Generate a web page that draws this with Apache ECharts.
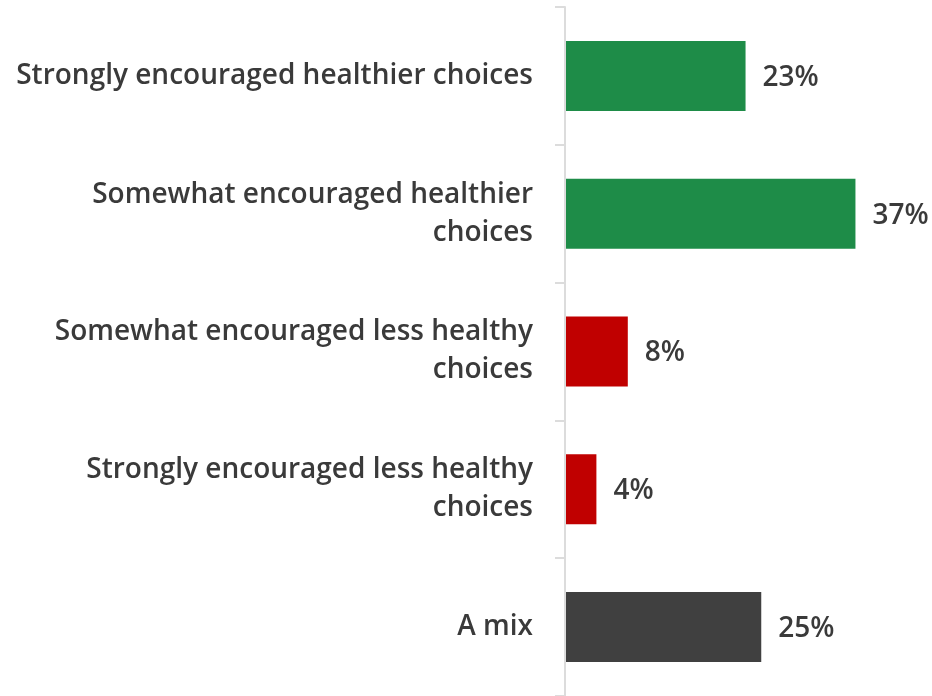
<!DOCTYPE html>
<html>
<head>
<meta charset="utf-8">
<script src="https://cdn.jsdelivr.net/npm/echarts@6/dist/echarts.min.js"></script>
<style>
html,body{margin:0;padding:0;background:#fff;}
#c{width:932px;height:696px;}
</style>
</head>
<body>
<div id="c"></div>
<script>
var categories = [
  "Strongly encouraged healthier choices",
  "Somewhat encouraged healthier\nchoices",
  "Somewhat encouraged less healthy\nchoices",
  "Strongly encouraged less healthy\nchoices",
  "A mix"
];
var values = [23, 37, 8, 4, 25];
var barColors = ["#1E8C48", "#1E8C48", "#C00000", "#C00000", "#404040"];

var chart = echarts.init(document.getElementById('c'), null, {renderer: 'canvas'});
var FONT = "'Open Sans', 'Liberation Sans', Arial, sans-serif";
chart.setOption({
  animation: false,
  backgroundColor: '#ffffff',
  grid: {left: 565, top: 7, width: 314, height: 690, containLabel: false},
  xAxis: {type: 'value', min: 0, max: 40, show: false},
  yAxis: {
    type: 'category',
    inverse: true,
    data: categories,
    z: 3,
    axisLine: {show: true, lineStyle: {color: '#dcdcdc', width: 2}},
    axisTick: {show: true, length: 10, lineStyle: {color: '#dcdcdc', width: 2}},
    axisLabel: {
      margin: 32,
      fontSize: 28,
      lineHeight: 38,
      color: '#3a3a3a',
      fontFamily: FONT,
      fontWeight: 600,
      align: 'right',
      padding: [9, 0, 0, 0]
    }
  },
  series: [{
    type: 'bar',
    barWidth: 70,
    data: values.map(function (v, i) {
      return {value: v, itemStyle: {color: barColors[i]}};
    }),
    label: {
      show: true,
      position: 'right',
      distance: 17,
      offset: [0, 2],
      formatter: '{c}%',
      fontSize: 28,
      color: '#3a3a3a',
      fontFamily: FONT,
      fontWeight: 600
    }
  }]
});
</script>
</body>
</html>
